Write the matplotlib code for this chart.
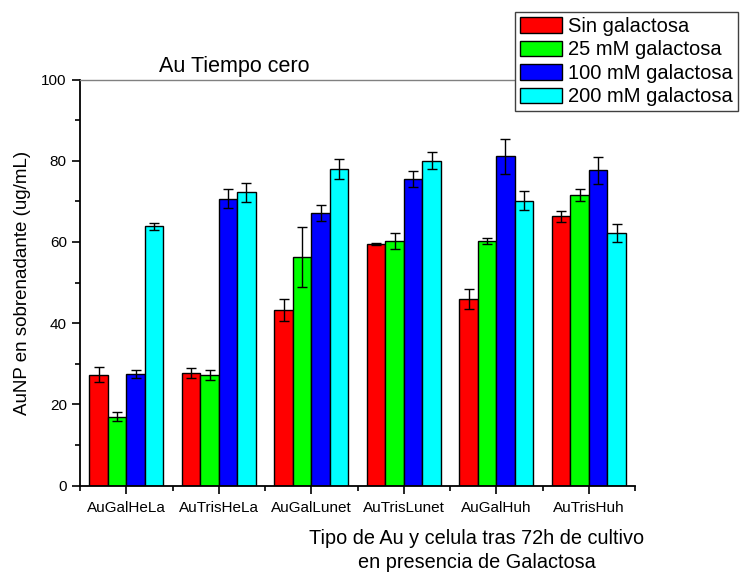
import numpy as np
import matplotlib
matplotlib.use("Agg")
import matplotlib.pyplot as plt

plt.rcParams['font.family'] = ['Liberation Sans', 'DejaVu Sans']

categories = ["AuGalHeLa", "AuTrisHeLa", "AuGalLunet", "AuTrisLunet", "AuGalHuh", "AuTrisHuh"]
series_names = ["Sin galactosa", "25 mM galactosa", "100 mM galactosa", "200 mM galactosa"]
colors = ["#FF0000", "#00FF00", "#0000FF", "#00FFFF"]

sin_gal = [27.3, 27.7, 43.2, 59.5, 45.9, 66.3]
gal_25 = [17.0, 27.3, 56.3, 60.2, 60.2, 71.6]
gal_100 = [27.5, 70.7, 67.2, 75.5, 81.1, 77.6]
gal_200 = [63.9, 72.2, 78.0, 80.0, 70.2, 62.3]

err_sin = [1.8, 1.2, 2.7, 0.3, 2.5, 1.3]
err_25 = [1.1, 1.2, 7.5, 2.0, 0.8, 1.5]
err_100 = [0.9, 2.3, 2.0, 2.0, 4.3, 3.4]
err_200 = [0.85, 2.4, 2.4, 2.1, 2.4, 2.2]

values = [sin_gal, gal_25, gal_100, gal_200]
errors = [err_sin, err_25, err_100, err_200]

fig = plt.figure(figsize=(7.4, 5.72), dpi=100)
ax = fig.add_axes([80 / 740, 1 - 485.7 / 572, 555 / 740, (485.7 - 79.5) / 572])

x = np.arange(1, len(categories) + 1)
width = 0.2
for i, (vals, errs, col, name) in enumerate(zip(values, errors, colors, series_names)):
    pos = x + (i - 1.5) * width
    ax.bar(pos, vals, width, color=col, edgecolor="black", linewidth=1.0, label=name, zorder=2)
    ax.errorbar(pos, vals, yerr=errs, fmt="none", ecolor="black", elinewidth=1.0,
                capsize=3.3, capthick=1.0, zorder=3)

ax.set_xlim(0.5, 6.5)
ax.set_ylim(0, 100)
ax.set_xticks(x)
ax.set_xticklabels(categories, fontsize=11)
ax.set_xticks(np.arange(0.5, 6.6, 1.0), minor=True)
ax.set_yticks(np.arange(0, 101, 20))
ax.set_yticks(np.arange(10, 100, 20), minor=True)
ax.tick_params(axis="both", which="major", direction="out", length=6, width=1.2, labelsize=11)
ax.tick_params(axis="both", which="minor", direction="out", length=3.5, width=1.2)
ax.tick_params(axis="x", which="major", pad=5)

ax.spines["right"].set_visible(False)
ax.spines["top"].set_color("#808080")
ax.spines["top"].set_linewidth(1.0)
ax.spines["left"].set_linewidth(1.3)
ax.spines["bottom"].set_linewidth(1.3)

ax.set_ylabel("AuNP en sobrenadante (ug/mL)", fontsize=13.5)
ax.yaxis.set_label_coords(-0.088, 0.5)

fig.text(477 / 740, 1 - 538 / 572, "Tipo de Au y celula tras 72h de cultivo",
         fontsize=14.3, ha="center", va="center")
fig.text(477 / 740, 1 - 563 / 572, "en presencia de Galactosa",
         fontsize=14.3, ha="center", va="center")

ax.text(0.142, 1.006, "Au Tiempo cero", transform=ax.transAxes, fontsize=15.5,
        ha="left", va="bottom")

leg = fig.legend(loc="upper left", bbox_to_anchor=(515 / 740, 1 - 12 / 572),
                 bbox_transform=fig.transFigure, fontsize=14.5, frameon=True,
                 fancybox=False, handlelength=2.1, handleheight=0.8,
                 handletextpad=0.3, labelspacing=0.22, borderpad=0.25,
                 borderaxespad=0.0)
leg.get_frame().set_edgecolor("#404040")
leg.get_frame().set_linewidth(1.0)
leg.get_frame().set_alpha(1.0)

fig.savefig("out.png", dpi=100)
